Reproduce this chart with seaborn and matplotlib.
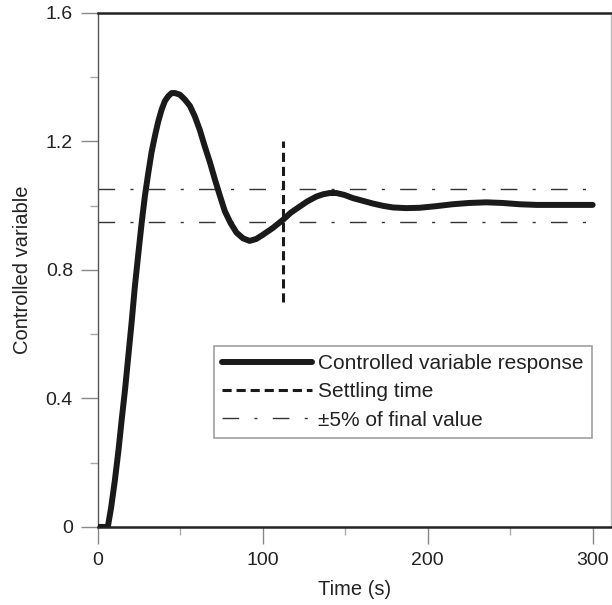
import matplotlib
matplotlib.use("Agg")
import matplotlib.pyplot as plt
import pandas as pd
import seaborn as sns
from matplotlib.ticker import MultipleLocator

# response
time_s = [0, 3, 6, 8, 10.3, 12.5, 14.4, 16.5, 18.4, 20.5, 22.4, 24.5, 26.5, 28.5, 30.5,
          32.5, 34.5, 36.5, 38.6, 40.6, 42.6, 44.7, 46.7, 49.7, 52.7, 55.8, 58.8, 61.8,
          64.8, 67.9, 71, 74, 77, 80.5, 84, 88, 92, 96, 100, 106, 112.3, 117, 122.4,
          127, 132.5, 136.5, 140.6, 144.6, 149.5, 154.7, 160.5, 166.9, 173, 179, 187,
          195, 205, 215, 225, 235.6, 245.5, 255.8, 266, 276, 288, 300]
response = [0, 0, 0, 0.06, 0.146, 0.24, 0.333, 0.43, 0.53, 0.64, 0.748, 0.85, 0.945, 1.03,
            1.10, 1.165, 1.215, 1.26, 1.298, 1.325, 1.34, 1.35, 1.35, 1.345, 1.33, 1.31,
            1.277, 1.235, 1.184, 1.135, 1.08, 1.03, 0.982, 0.945, 0.916, 0.898, 0.89,
            0.896, 0.909, 0.93, 0.956, 0.978, 0.997, 1.013, 1.028, 1.035, 1.039, 1.039,
            1.033, 1.023, 1.015, 1.006, 0.999, 0.994, 0.992, 0.993, 0.998, 1.004, 1.008,
            1.01, 1.008, 1.004, 1.002, 1.002, 1.002, 1.002]

settling_t = 112
settling_span = [0.7, 1.2]
band_t = [0, 300]
band_hi = [1.05, 1.05]
band_lo = [0.95, 0.95]

x_ticks = [0, 100, 200, 300]
y_ticks = [0, 0.4, 0.8, 1.2, 1.6]

sns.set_style("ticks")
plt.rcParams["font.family"] = ["Liberation Sans", "DejaVu Sans"]

fig = plt.figure(figsize=(6.12, 6.05), dpi=100)
ax = fig.add_axes([0.160, 0.129, 0.838, 0.850])

resp_df = pd.DataFrame({"t": time_s, "y": response})
sns.lineplot(data=resp_df, x="t", y="y", ax=ax, color="#1a1a1a", linewidth=4.3,
             solid_capstyle="round", label="Controlled variable response", zorder=4)

settle_df = pd.DataFrame({"t": [settling_t, settling_t], "y": settling_span})
sns.lineplot(data=settle_df, x="t", y="y", ax=ax, color="#1a1a1a", linewidth=2.2,
             linestyle=(0, (3.0, 1.6)), label="Settling time", zorder=3,
             sort=False, estimator=None)

dashdot = (0, (12, 11, 2.2, 11))
band_df = pd.DataFrame({"t": band_t, "hi": band_hi, "lo": band_lo})
sns.lineplot(data=band_df, x="t", y="hi", ax=ax, color="#333333", linewidth=1.0,
             linestyle=dashdot, label="\u00b15% of final value", zorder=2)
sns.lineplot(data=band_df, x="t", y="lo", ax=ax, color="#333333", linewidth=1.0,
             linestyle=dashdot, zorder=2)

ax.set_xlim(0, 311)
ax.set_ylim(0, 1.6)
ax.set_xticks(x_ticks)
ax.set_xticklabels([str(v) for v in x_ticks])
ax.set_yticks(y_ticks)
ax.set_yticklabels(["0", "0.4", "0.8", "1.2", "1.6"])
ax.xaxis.set_minor_locator(MultipleLocator(50))
ax.yaxis.set_minor_locator(MultipleLocator(0.2))
ax.tick_params(which="major", length=12, width=1.0, color="#888888",
               labelsize=14, labelcolor="#222222", pad=6)
ax.tick_params(which="minor", length=6, width=1.0, color="#aaaaaa")

for side in ["left", "right"]:
    ax.spines[side].set_color("#555555")
    ax.spines[side].set_linewidth(1.0)
ax.spines["right"].set_color("#bbbbbb")
for side in ["top", "bottom"]:
    ax.spines[side].set_color("#222222")
    ax.spines[side].set_linewidth(1.8)

ax.set_xlabel("Time (s)", fontsize=14.5, color="#222222", labelpad=8)
ax.set_ylabel("Controlled variable", fontsize=14.5, color="#222222", labelpad=10)

leg = ax.legend(loc="lower right", bbox_to_anchor=(0.963, 0.173), fontsize=15,
                frameon=True, fancybox=False, edgecolor="#888888",
                handlelength=4.3, handletextpad=0.3, borderpad=0.4,
                labelspacing=0.45, borderaxespad=0)
leg.get_frame().set_linewidth(1.2)
for txt in leg.get_texts():
    txt.set_color("#222222")

fig.savefig("out.png", dpi=100)
